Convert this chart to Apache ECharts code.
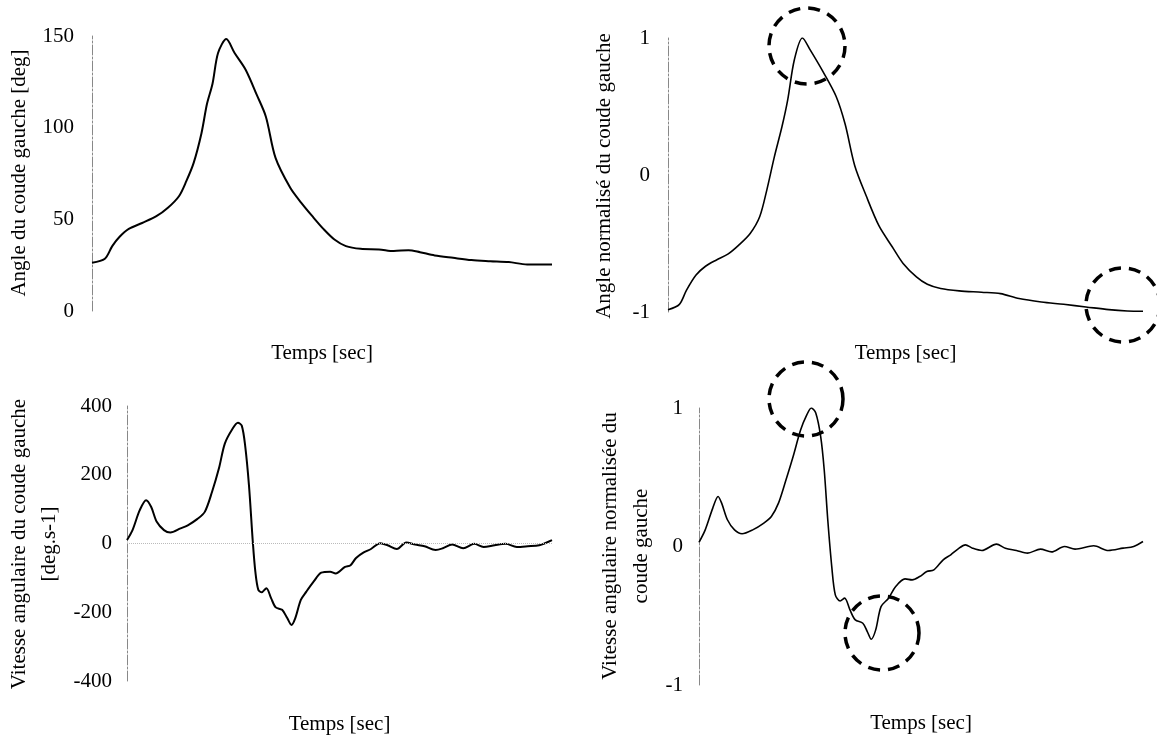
<!DOCTYPE html>
<html>
<head>
<meta charset="utf-8">
<script src="https://cdn.jsdelivr.net/npm/echarts@6/dist/echarts.min.js"></script>
<style>
html,body{margin:0;padding:0;background:#fff;}
#c{width:1157px;height:738px;}
</style>
</head>
<body>
<div id="c"></div>
<script>
// Panel 1: Angle du coude gauche [deg]
var angleT = [0,2.8,4.4,6,8,10.9,14,16.5,18.9,20.5,22.1,23.8,25,26.2,27.4,29.2,31,33.4,35.8,37.8,39.9,43.1,45.5,47.9,50.3,52.7,55.2,58.4,62.4,65.6,68.8,71.3,74.5,78.5,82.5,86.6,90.6,94.6,100];
var angleV = [26.3,28.5,35.4,40.5,44.8,48,51.7,56.3,62.6,70.8,80.8,97,113,124,140.7,148.3,140.7,131.6,118,106,83.5,67.2,59,51.7,44.8,39,35.4,33.9,33.6,32.7,33.2,32.1,30.3,29,27.8,27.2,26.7,25.4,25.4];

// Panel 2: Angle normalisé du coude gauche
var normAngleT = [0,2.4,3.9,5.9,7.9,10.2,12.6,14.9,17.3,19.3,20.8,22.4,24,25.2,26.6,28.3,29.9,32.6,35.4,37.3,39.3,41.7,44.4,47.2,49.5,52.3,54.6,57.4,61.3,66,70,73.9,78.6,83.3,88,92.8,96.7,100];
var normAngleV = [-0.983,-0.944,-0.84,-0.73,-0.666,-0.62,-0.578,-0.512,-0.427,-0.305,-0.11,0.134,0.354,0.549,0.841,1.0,0.915,0.756,0.573,0.37,0.07,-0.15,-0.37,-0.524,-0.646,-0.744,-0.798,-0.829,-0.846,-0.856,-0.866,-0.902,-0.927,-0.944,-0.963,-0.983,-0.993,-0.995];

// Panel 3: Vitesse angulaire du coude gauche [deg.s-1]
var velT = [0,1.3,3,4.5,5.7,7,8.7,10.2,12.6,14.3,16.5,18.3,20,21.7,23,24.8,26.1,27,27.8,28.7,29.6,30.2,30.9,31.7,32.8,33.9,35,36.5,37.7,38.7,39.6,40.9,42.2,43.9,45.7,47.8,49.1,51.3,52.6,53.9,55.7,57.4,59.6,61.3,63.5,65.7,67.8,70,72.6,74.3,76.5,79.1,81.7,83.9,86.5,89.1,91.7,94.3,97,100];
var velV = [10,39,97,126,106,63,39,32,44,53,71,92,150,222,290,333,351,343,285,169,5,-82,-135,-142,-130,-159,-186,-193,-217,-237,-217,-164,-140,-111,-85,-82,-87,-68,-63,-42,-26,-16,1,-5,-16,3,-3,-8,-19,-14,-3,-14,-1,-10,-5,-1,-10,-8,-5,10];

// Panel 4: Vitesse angulaire normalisée du coude gauche
var normVelT = [0,1.4,3.1,4.3,5.1,6.4,8,9.7,12.1,14.6,16.3,17.9,19.6,21.2,22.9,24.3,25.3,26.3,27.4,28.2,29,29.9,30.7,31.8,32.8,34,35.2,36.9,37.9,38.8,39.8,41,42.7,44.3,46.4,48,49.7,51.3,52.9,55,56.7,58.3,60,61.6,63.7,67,69,71.5,74,76.9,79.4,82.3,84.7,88.9,92.2,95.5,97.9,100];
var normVelV = [0.03,0.12,0.277,0.361,0.313,0.193,0.12,0.092,0.12,0.169,0.217,0.313,0.482,0.65,0.843,0.952,1.0,0.964,0.795,0.554,0.193,-0.145,-0.349,-0.393,-0.373,-0.458,-0.53,-0.554,-0.614,-0.67,-0.602,-0.434,-0.373,-0.289,-0.234,-0.241,-0.217,-0.181,-0.169,-0.096,-0.06,-0.019,0.012,-0.012,-0.029,0.017,-0.012,-0.029,-0.048,-0.019,-0.039,0,-0.019,0.005,-0.029,-0.012,0,0.036];

var xTitle = 'Temps [sec]';
// y-axis titles, one entry per text line
var yTitleLines = [
  ['Angle du coude gauche [deg]'],
  ['Angle normalisé du coude gauche'],
  ['Vitesse angulaire du coude gauche', '[deg.s-1]'],
  ['Vitesse angulaire normalisée du', 'coude gauche']
];
var yMin = [0, -1, -400, -1];
var yMax = [150, 1, 400, 1];
var yInterval = [50, 1, 200, 1];

function zip(t, v) { return t.map(function (x, i) { return [x, v[i]]; }); }

var FONT_FAMILY = '"Liberation Serif", "DejaVu Serif", serif';
var grids = [
  {left: 92, top: 36, width: 460, height: 275},
  {left: 668, top: 38, width: 475, height: 274},
  {left: 127, top: 406, width: 425, height: 275},
  {left: 699, top: 408, width: 444, height: 277}
].map(function (g) { g.containLabel = false; g.outerBoundsMode = 'none'; return g; });
var xGaps = [32, 31, 33, 28];
var labelMargins = [18, 18, 15, 16];
// centres of the rotated y titles (layout)
var titleX = [[19], [604], [19, 49], [610, 641]];
var titleY = [173, 176, 544, 546];

var xAxes = [], yAxes = [];
for (var i = 0; i < 4; i++) {
  xAxes.push({
    gridIndex: i, type: 'value', min: 0, max: 100,
    name: xTitle, nameLocation: 'middle', nameGap: xGaps[i],
    nameTextStyle: {fontFamily: FONT_FAMILY, fontSize: 21, color: '#000', verticalAlign: 'top'},
    axisLine: {show: false}, axisTick: {show: false}, axisLabel: {show: false}, splitLine: {show: false}
  });
  yAxes.push({
    gridIndex: i, type: 'value', min: yMin[i], max: yMax[i], interval: yInterval[i],
    axisLine: {show: true, lineStyle: {color: '#888', width: 1, type: [10, 2, 2, 2]}},
    axisTick: {show: false},
    axisLabel: {fontFamily: FONT_FAMILY, fontSize: 21, color: '#000', margin: labelMargins[i]},
    splitLine: {show: false}
  });
}

var datas = [zip(angleT, angleV), zip(normAngleT, normAngleV), zip(velT, velV), zip(normVelT, normVelV)];
var widths = [2, 1.6, 2, 1.6];
var series = datas.map(function (d, i) {
  var s = {
    type: 'line', xAxisIndex: i, yAxisIndex: i, data: d, smooth: 0.3,
    showSymbol: false, symbol: 'none', silent: true, animation: false,
    lineStyle: {color: '#000', width: widths[i]}
  };
  if (i === 2) {
    s.markLine = {silent: true, symbol: 'none', label: {show: false},
      lineStyle: {color: '#bbb', type: 'dotted', width: 1},
      data: [{yAxis: 0}]};
  }
  return s;
});

function ring(cx, cy, r) {
  return {type: 'circle', shape: {cx: cx, cy: cy, r: r}, silent: true, z: 100,
    style: {fill: 'none', stroke: '#000', lineWidth: 3.5, lineDash: [12, 8]}};
}

var graphics = [ring(807, 46, 38), ring(1123, 305, 37), ring(806, 399, 37), ring(882, 633, 37)];
yTitleLines.forEach(function (lines, p) {
  lines.forEach(function (txt, k) {
    graphics.push({
      type: 'text', x: titleX[p][k], y: titleY[p], rotation: Math.PI / 2, silent: true,
      style: {text: txt, fill: '#000', font: '21px ' + FONT_FAMILY, align: 'center', verticalAlign: 'middle'}
    });
  });
});

var chart = echarts.init(document.getElementById('c'), null, {renderer: 'canvas'});
chart.setOption({
  backgroundColor: '#fff',
  animation: false,
  grid: grids,
  xAxis: xAxes,
  yAxis: yAxes,
  series: series,
  graphic: graphics
});
</script>
</body>
</html>
